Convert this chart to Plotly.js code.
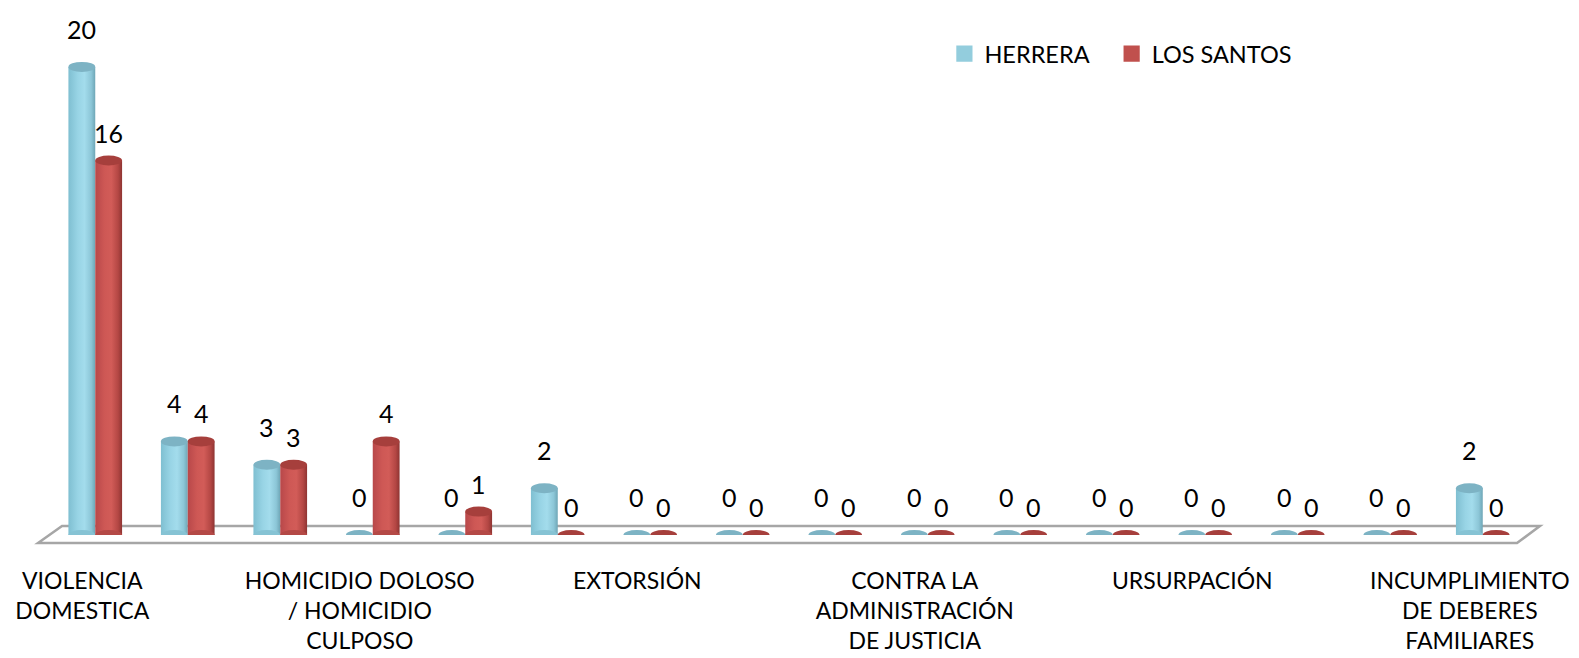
<!DOCTYPE html>
<html><head><meta charset="utf-8">
<script src="https://cdn.plot.ly/plotly-3.0.1.min.js"></script>
<style>html,body{margin:0;padding:0;background:#fff}#chart{width:1579px;height:658px}</style>
</head><body><div id="chart"></div>
<script>
// ---- data ----
const categoryIndex = [0,1,2,3,4,5,6,7,8,9,10,11,12,13,14,15];
const herrera   = [20,4,3,0,0,2,0,0,0,0,0,0,0,0,0,2];
const losSantos = [16,4,3,4,1,0,0,0,0,0,0,0,0,0,0,0];
const seriesNames = ['HERRERA','LOS SANTOS'];
const tickIndex = [0,3,6,9,12,15];
const tickLabels = [
  'VIOLENCIA<br>DOMESTICA',
  'HOMICIDIO DOLOSO<br>/ HOMICIDIO<br>CULPOSO',
  'EXTORSIÓN',
  'CONTRA LA<br>ADMINISTRACIÓN<br>DE JUSTICIA',
  'URSURPACIÓN',
  'INCUMPLIMIENTO<br>DE DEBERES<br>FAMILIARES'
];

// ---- style ----
const FONT = 'Lato, "Open Sans", sans-serif';
const colH = '#93CDDD', colS = '#C0504D';
const capH = '#7DB3C4', capS = '#A63F3C';
const bargap = 0.42;
const w = (1 - bargap) / 2;

const traces = [
  {type:'bar', x:categoryIndex, y:herrera, name:seriesNames[0], legend:'legend',
   marker:{color:colH, line:{width:0}}, hoverinfo:'x+y'},
  {type:'bar', x:categoryIndex, y:losSantos, name:seriesNames[1], legend:'legend2',
   marker:{color:colS, line:{width:0}}, hoverinfo:'x+y'}
];

const shapes = [
  {type:'path', xref:'paper', yref:'paper', layer:'below',
   path:'M -0.0074 -0.0162 L 0.0088 0.0182 L 1.0074 0.0182 L 0.9919 -0.0162 Z',
   fillcolor:'#ffffff', line:{color:'#A6A6A6', width:2.5}}
];
const annotations = [];
function addSeries(vals, side, cap, body) {
  vals.forEach((v, i) => {
    const x0 = side < 0 ? categoryIndex[i] - w : categoryIndex[i];
    const x1 = x0 + w;
    if (v > 0) {
      shapes.push({type:'circle', xref:'x', yref:'y', ysizemode:'pixel', yanchor:0,
        x0:x0, x1:x1, y0:-5, y1:5, fillcolor:body, line:{width:0}, layer:'above'});
    }
    shapes.push({type:'circle', xref:'x', yref:'y', ysizemode:'pixel', yanchor:v,
      x0:x0, x1:x1, y0:-5, y1:5, fillcolor:cap, line:{width:0}, layer:'above'});
    annotations.push({xref:'x', yref:'y', x:(x0 + x1) / 2, y:v, text:String(v),
      showarrow:false, yshift: side < 0 ? 38 : 28, font:{family:FONT, size:25, color:'#000'}});
  });
}
addSeries(herrera, -1, capH, '#86C3D4');
addSeries(losSantos, 1, capS, '#B44946');

const legendBase = {orientation:'h', y:0.972, xanchor:'left', yanchor:'middle',
  font:{family:FONT, size:23.5, color:'#000'}, bgcolor:'rgba(0,0,0,0)', itemwidth:30};

const layout = {
  width:1579, height:658,
  margin:{l:49, r:50, t:40, b:123},
  paper_bgcolor:'#fff', plot_bgcolor:'rgba(0,0,0,0)',
  barmode:'group', bargap:bargap, bargroupgap:0,
  font:{family:FONT, size:22, color:'#000'},
  showlegend:true,
  legend:Object.assign({}, legendBase, {x:0.605}),
  legend2:Object.assign({}, legendBase, {x:0.718}),
  xaxis:{range:[-0.5, 15.5], tickmode:'array', tickvals:tickIndex, ticktext:tickLabels,
    showgrid:false, zeroline:false, showline:false, ticks:'', automargin:false,
    ticklabelstandoff:30, ticklabelshift:-13,
    tickfont:{family:FONT, size:23, color:'#000'}, fixedrange:true},
  yaxis:{range:[0, 21.15], visible:false, showgrid:false, zeroline:false, fixedrange:true},
  shapes:shapes, annotations:annotations
};

Plotly.newPlot('chart', traces, layout, {displayModeBar:false, staticPlot:true}).then(gd => {
  const svg = gd.querySelector('.main-svg');
  const ns = 'http://www.w3.org/2000/svg';
  let defs = svg.querySelector('defs');
  if (!defs) { defs = document.createElementNS(ns, 'defs'); svg.insertBefore(defs, svg.firstChild); }
  function grad(id, stops) {
    const g = document.createElementNS(ns, 'linearGradient');
    g.setAttribute('id', id); g.setAttribute('x1','0'); g.setAttribute('x2','1');
    g.setAttribute('y1','0'); g.setAttribute('y2','0');
    stops.forEach(([o, c]) => {
      const s = document.createElementNS(ns, 'stop');
      s.setAttribute('offset', o); s.setAttribute('stop-color', c); g.appendChild(s);
    });
    defs.appendChild(g);
  }
  grad('gH', [[0,'#7FBFD1'],[0.35,'#98D4E5'],[0.6,'#A3DCEC'],[0.85,'#8CC6D7'],[1,'#6EA6B6']]);
  grad('gS', [[0,'#B8484A'],[0.35,'#CE5855'],[0.6,'#D25C58'],[0.85,'#B44744'],[1,'#8E3432']]);
  const groups = gd.querySelectorAll('.barlayer .trace');
  groups.forEach((g, k) => {
    g.querySelectorAll('path').forEach(p => { p.style.fill = k === 0 ? 'url(#gH)' : 'url(#gS)'; });
  });
  gd.querySelectorAll('.legendpoints path').forEach(p => {
    const t = p.getAttribute('transform') || '';
    p.setAttribute('transform', t + ' scale(1.35)');
  });
});
</script>
</body></html>
